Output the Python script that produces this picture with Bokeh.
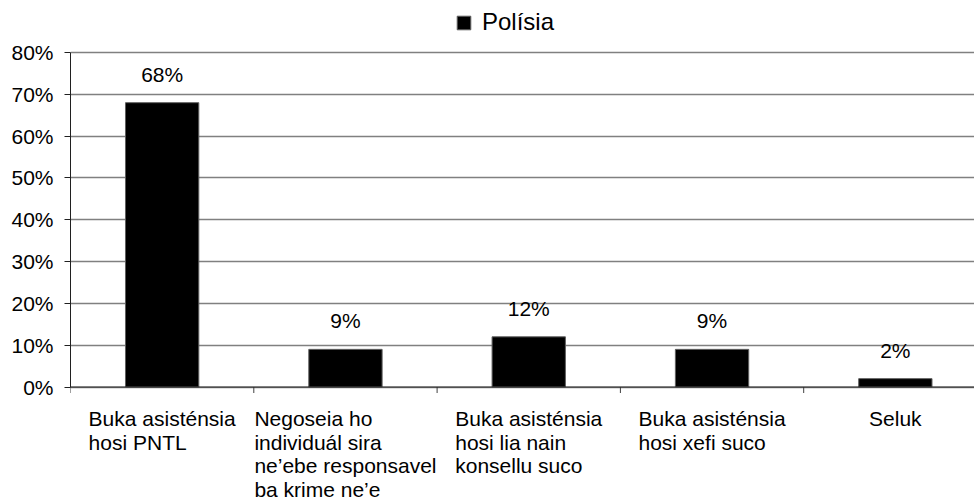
from bokeh.plotting import figure
from bokeh.models import (Range1d, FixedTicker, PrintfTickFormatter, LabelSet,
                          ColumnDataSource, Legend, LegendItem, Span)
from bokeh.core.properties import value
from bokeh.embed import file_html
from bokeh.resources import INLINE

categories = [
    "Buka asisténsia\nhosi PNTL",
    "Negoseia ho\nindividuál sira\nne\u2019ebe responsavel\nba krime ne\u2019e",
    "Buka asisténsia\nhosi lia nain\nkonsellu suco",
    "Buka asisténsia\nhosi xefi suco",
    "Seluk",
]
values = [68, 9, 12, 9, 2]
value_labels = ["68%", "9%", "12%", "9%", "2%"]
series_name = "Polísia"
y_ticks = [0, 10, 20, 30, 40, 50, 60, 70, 80]

FONT = "Liberation Sans"
FS = 21

# approximate Arial advance widths (em)
W = {'a': .556, 'b': .556, 'c': .5, 'd': .556, 'e': .556, 'f': .278, 'g': .556,
     'h': .556, 'i': .222, 'j': .222, 'k': .5, 'l': .222, 'm': .833, 'n': .556,
     'o': .556, 'p': .556, 'r': .333, 's': .5, 't': .278, 'u': .556, 'v': .5,
     'x': .5, 'y': .5, ' ': .278, '\u2019': .222, 'á': .556, 'é': .556,
     'í': .278, 'B': .667, 'K': .667, 'N': .722, 'P': .667, 'T': .611,
     'L': .556, 'S': .667}


def text_width(s):
    return max(sum(W.get(c, .556) for c in line) for line in s.split("\n")) * FS


n = len(categories)
xs = [i + 0.5 for i in range(n)]

WIDTH, HEIGHT = 974, 501
LEFT = 70                 # frame left edge (px)
Y0_PX, Y80_PX = 386.5, 52  # pixel rows of 0% and 80%
cat_px = 183.3
ppu = (Y0_PX - Y80_PX) / 80.0  # pixels per percent

p = figure(width=WIDTH, height=HEIGHT, output_backend="svg", toolbar_location=None,
           x_range=Range1d(0, (WIDTH - LEFT) / cat_px),
           y_range=Range1d(-(HEIGHT - Y0_PX) / ppu, 80 + Y80_PX / ppu),
           min_border_left=LEFT, min_border_right=0, min_border_top=0,
           min_border_bottom=0)
p.outline_line_color = None
p.background_fill_color = "white"

# gridlines
p.xgrid.grid_line_color = None
p.ygrid.ticker = FixedTicker(ticks=y_ticks)
p.ygrid.grid_line_color = "#808080"
p.ygrid.grid_line_width = 1.5

r = p.vbar(x=xs, top=values, width=0.4, fill_color="black", line_color="#606060",
           line_width=1)

# y axis
p.yaxis.ticker = FixedTicker(ticks=y_ticks)
p.yaxis.bounds = (0, 80)
p.yaxis.formatter = PrintfTickFormatter(format="%d%%")
p.yaxis.major_label_text_font = FONT
p.yaxis.major_label_text_font_size = f"{FS}px"
p.yaxis.major_label_text_color = "black"
p.yaxis.axis_line_color = "#202020"
p.yaxis.major_tick_line_color = "#202020"
p.yaxis.major_tick_out = 6
p.yaxis.major_tick_in = 0
p.yaxis.minor_tick_line_color = None
p.yaxis.major_label_standoff = 11

# x axis: baseline and category boundary ticks
p.xaxis.visible = False
p.add_layout(Span(location=0, dimension="width", line_color="#202020", line_width=1))
bounds = list(range(n + 1))
p.segment(x0=bounds, y0=[0] * len(bounds), x1=bounds, y1=[-6 / ppu] * len(bounds),
          line_color="#404040", line_width=1)

# value labels
vsrc = ColumnDataSource(dict(x=xs, y=values, t=value_labels))
p.add_layout(LabelSet(x="x", y="y", text="t", source=vsrc, text_align="center",
                      text_baseline="alphabetic", y_offset=21,
                      text_font=value(FONT), text_font_size=value(f"{FS}px"),
                      text_color="black"))

# category labels (left-aligned lines, block centred on category)
csrc = ColumnDataSource(dict(x=xs, y=[0] * n, t=categories,
                             dx=[-text_width(c) / 2 for c in categories]))
p.add_layout(LabelSet(x="x", y="y", text="t", source=csrc, text_align="left",
                      text_baseline="top", x_offset="dx", y_offset=-20,
                      text_line_height=1.03,
                      text_font=value(FONT), text_font_size=value(f"{FS}px"),
                      text_color="black"))

legend = Legend(items=[LegendItem(label=series_name, renderers=[r])],
                location=(385, HEIGHT - 36), orientation="horizontal",
                border_line_color=None, background_fill_alpha=0,
                label_text_font=FONT, label_text_font_size="24px",
                label_text_color="black",
                glyph_width=17, glyph_height=17, label_standoff=10,
                padding=0, margin=0)
p.add_layout(legend)

open("out.html", "w").write(file_html(p, INLINE))
